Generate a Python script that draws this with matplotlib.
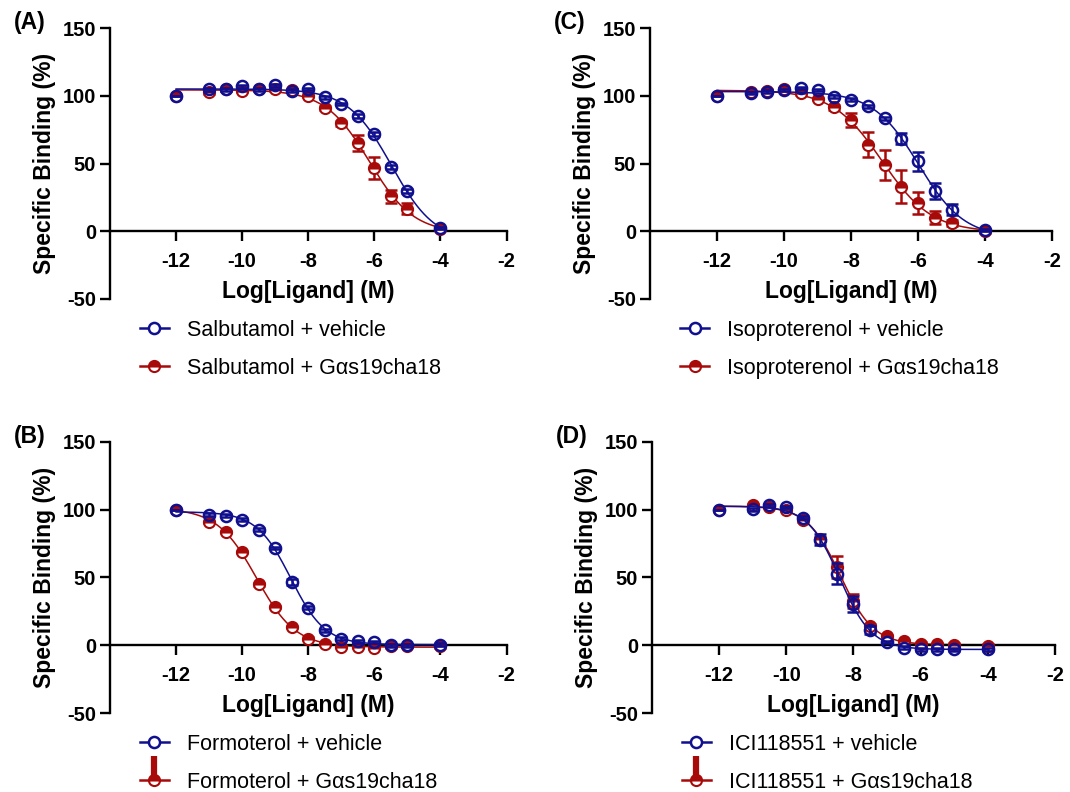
import numpy as np
import matplotlib
matplotlib.use("Agg")
import matplotlib.pyplot as plt
from matplotlib.lines import Line2D
from matplotlib.path import Path
from matplotlib.legend_handler import HandlerTuple

plt.rcParams['font.family'] = ['Liberation Sans', 'DejaVu Sans']

# ---------------- data ----------------
log_conc = [-12, -11, -10.5, -10, -9.5, -9, -8.5, -8, -7.5, -7, -6.5, -6, -5.5, -5, -4]

salb_veh = [100, 104.7, 104.7, 107, 104.7, 107.8, 103.7, 105, 98.8, 93.9, 85, 71.8, 47.3, 29.9, 2.5]
salb_veh_err = [0, 1, 1, 1, 1, 1, 1, 1, 1, 1, 1.5, 1.5, 1.5, 1.5, 1]
salb_g = [100, 103, 104.7, 103.7, 105, 104.7, 104, 100, 90.7, 79.7, 65.4, 46.6, 25.7, 16.7, 1.7]
salb_g_err = [0, 1.5, 1, 1, 1, 1, 1, 1, 1.5, 2, 6, 8, 4.5, 4, 1]

iso_veh = [99.6, 102, 103, 104.3, 105.8, 104.3, 99.3, 97.1, 92.2, 83.5, 68.4, 51.6, 29.7, 16, 1]
iso_veh_err = [0, 1, 1, 1, 1, 1, 1, 1, 1, 1, 4, 7, 6, 4, 1]
iso_g = [100, 102.5, 103.8, 105, 101.8, 97.6, 91.4, 82, 64, 49, 33, 21, 10, 6, 0]
iso_g_err = [0, 1, 1, 1, 1, 1, 1.5, 5, 9, 11, 12, 8, 5, 2, 1]

form_veh = [100, 96.4, 95.6, 92.7, 85.3, 71.8, 46.7, 27.8, 11, 4.9, 3, 2.5, 0, 0, 0.5]
form_veh_err = [0, 1, 1, 1, 1, 1, 2, 1, 1, 1, 1, 1, 1, 1, 1]
form_g = [100, 91, 83.6, 68.8, 45, 28.3, 13.5, 4.9, 1.2, -1.2, -1.2, -1.7, -0.7, -0.2, -0.7]
form_g_err = [0, 1, 1, 1, 1, 1, 1, 1, 1, 1, 1, 1, 1, 1, 1]

ici_veh = [99.6, 100.3, 103.3, 102, 94.2, 78, 52.9, 30.2, 11, 2.5, -1.7, -3, -3, -3, -3]
ici_veh_err = [0, 1, 1, 1, 1, 4, 8, 6, 3, 1, 1, 1, 1, 1, 1]
ici_g = [100, 103.3, 102, 100, 92.2, 78.7, 57.8, 32.5, 14, 6.6, 3, 1.2, 0.7, 0.5, -0.2]
ici_g_err = [0, 1, 1, 1, 1, 1.5, 8, 5, 2, 1, 1, 1, 1, 1, 1]

panel_labels = ['(A)', '(B)', '(C)', '(D)']
legend_veh = ['Salbutamol + vehicle', 'Formoterol + vehicle', 'Isoproterenol + vehicle', 'ICI118551 + vehicle']
legend_g = ['Salbutamol + Gαs19cha18', 'Formoterol + Gαs19cha18', 'Isoproterenol + Gαs19cha18', 'ICI118551 + Gαs19cha18']
x_ticks = [-12, -10, -8, -6, -4, -2]
y_ticks = [-50, 0, 50, 100, 150]

BLUE = '#10108f'
RED = '#a80a0a'


def fit_4pl(x, y):
    """Least-squares fit of a four-parameter logistic curve (grid search)."""
    x = np.asarray(x, float)
    y = np.asarray(y, float)
    cs = np.arange(-12.0, -3.0, 0.01)
    hs = np.arange(0.3, 2.5, 0.01)
    C, H = np.meshgrid(cs, hs)
    f = 1.0 / (1.0 + 10 ** ((x[None, None, :] - C[..., None]) * H[..., None]))
    fm = f.mean(-1, keepdims=True)
    ym = y.mean()
    k = ((f - fm) * (y - ym)).sum(-1) / ((f - fm) ** 2).sum(-1)
    a = ym - k * fm[..., 0]
    res = ((a[..., None] + k[..., None] * f - y) ** 2).sum(-1)
    i = np.unravel_index(np.argmin(res), res.shape)
    return a[i], k[i], C[i], H[i]


def curve(params, xs):
    a, k, c, h = params
    return a + k / (1.0 + 10 ** ((xs - c) * h))


fig = plt.figure(figsize=(10.7, 7.92), dpi=100)

positions = {
    'A': [0.1028, 0.6225, 0.3706, 0.342],
    'C': [0.6075, 0.6225, 0.3757, 0.342],
    'B': [0.1028, 0.0997, 0.3706, 0.3423],
    'D': [0.6093, 0.0997, 0.3766, 0.3423],
}

panels = [
    ('A', salb_veh, salb_veh_err, salb_g, salb_g_err, 0, False),
    ('B', form_veh, form_veh_err, form_g, form_g_err, 1, True),
    ('C', iso_veh, iso_veh_err, iso_g, iso_g_err, 2, False),
    ('D', ici_veh, ici_veh_err, ici_g, ici_g_err, 3, True),
]

xs = np.linspace(-12, -4, 400)
bar_marker = Path([(0, 0), (0, 1)])

for key, yv, ev, yg, eg, idx, odd_handle in panels:
    ax = fig.add_axes(positions[key])
    # red series
    pg = fit_4pl(log_conc, yg)
    ax.plot(xs, curve(pg, xs), color=RED, lw=1.1, zorder=2)
    ax.errorbar(log_conc, yg, yerr=eg, fmt='none', ecolor=RED, elinewidth=1.8,
                capsize=4.5, capthick=1.8, zorder=3)
    ax.plot(log_conc, yg, ls='none', marker='o', ms=8, mew=1.5, mec=RED, mfc=RED,
            fillstyle='top', markerfacecoloralt='white', zorder=4)
    # blue series
    pv = fit_4pl(log_conc, yv)
    ax.plot(xs, curve(pv, xs), color=BLUE, lw=1.1, zorder=5)
    ax.errorbar(log_conc, yv, yerr=ev, fmt='none', ecolor=BLUE, elinewidth=1.8,
                capsize=4.5, capthick=1.8, zorder=6)
    ax.plot(log_conc, yv, ls='none', marker='o', ms=8, mew=1.8, mec=BLUE, mfc='none', zorder=7)

    ax.set_xlim(-14, -2)
    ax.set_ylim(-50, 150)
    ax.set_xticks(x_ticks)
    ax.set_yticks(y_ticks)
    ax.set_xticklabels([str(t) for t in x_ticks])
    ax.set_yticklabels([str(t) for t in y_ticks])
    for s in ['top', 'right']:
        ax.spines[s].set_visible(False)
    ax.spines['bottom'].set_position(('data', 0))
    for s in ['left', 'bottom']:
        ax.spines[s].set_linewidth(1.7)
    ax.tick_params(axis='both', width=1.7, length=7, labelsize=14.5)
    ax.tick_params(axis='x', pad=8)
    ax.tick_params(axis='y', pad=3)
    for lab in ax.get_xticklabels() + ax.get_yticklabels():
        lab.set_fontweight('bold')
    ax.patch.set_visible(False)

    ax.set_xlabel('Log[Ligand] (M)', fontsize=16.5, fontweight='bold', va='center')
    ax.xaxis.set_label_coords(0.5, 0.026)
    ax.set_ylabel('Specific Binding (%)', fontsize=16.5, fontweight='bold')
    ax.yaxis.set_label_coords(-0.135, 0.5)

    # panel label
    pos = positions[key]
    fig.text(pos[0] - 0.09, pos[1] + pos[3] - 0.008, panel_labels[idx],
             fontsize=16.5, fontweight='bold', ha='left', va='bottom')

    h1 = Line2D([], [], color=BLUE, lw=1.8, marker='o', ms=8, mew=1.8, mec=BLUE, mfc='white')
    h2 = Line2D([], [], color=RED, lw=1.8, marker='o', ms=8, mew=1.5, mec=RED, mfc=RED,
                fillstyle='top', markerfacecoloralt='white')
    if odd_handle:
        bar = Line2D([], [], ls='none', marker=bar_marker, ms=34, mew=4.5, mec=RED)
        h2 = (h2, bar)
    leg = ax.legend([h1, h2], [legend_veh[idx], legend_g[idx]],
                    loc='upper left', bbox_to_anchor=(pos[0] + 0.028, pos[1] - 0.026),
                    bbox_transform=fig.transFigure, frameon=False, fontsize=15.5,
                    handlelength=1.35, handletextpad=0.85, labelspacing=0.8,
                    borderpad=0, borderaxespad=0,
                    handler_map={tuple: HandlerTuple(ndivide=1, pad=0)})

fig.savefig('out.png', dpi=100)
